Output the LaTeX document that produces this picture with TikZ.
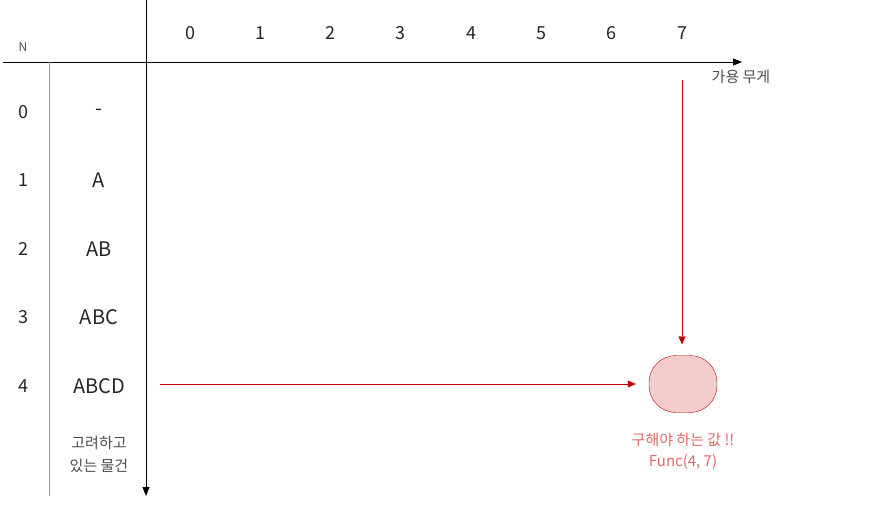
\documentclass[tikz,border=0pt]{standalone}
\usepackage{fontspec}
\setmainfont{Noto Sans CJK KR}
\usetikzlibrary{arrows.meta, positioning}

\definecolor{linered}{HTML}{C00000}
\definecolor{goalfill}{HTML}{F4CCCC}
\definecolor{goaltext}{HTML}{E06666}

\tikzset{
	num/.style = {font = \fontsize{18}{20}\selectfont, text = black!85},
	item/.style = {font = \fontsize{20}{22}\selectfont, text = black!85},
	small/.style = {font = \fontsize{12}{16}\selectfont, text = black!70},
	note/.style = {font = \fontsize{15}{23}\selectfont, text = black!70},
	redarrow/.style = {draw = linered, -{Triangle[length = 8pt, width = 7pt]}},
}

\begin{document}
\begin{tikzpicture}[x = 1pt, y = -1pt]
	\useasboundingbox (0,0) rectangle (869,505);
	
	% axes
	\draw [-{Triangle[length = 9pt, width = 7pt]}] (3,62) -- (742,62);
	\draw [-{Triangle[length = 9pt, width = 7pt]}] (146,0) -- (146,496);
	\draw [black!40] (49,62) -- (49,496);
	
	\node [small] (N) at (23,47) {N};
	\node [note] (weight) at (741,77) {가용 무게};
	
	% weights and items
	\foreach \w in {0,...,7}
		\node [num] (w\w) at ({190 + 70.3*\w},33) {\w};
	\foreach \it [count = \n from 0] in {-, A, AB, ABC, ABCD}
	{
		\node [num] (n\n) at (23,{112 + 68.5*\n}) {\n};
		\node [item] (item\n) at (99,{112 + 68.5*\n}) {\it};
	}
	\node [note, align = center] (things) at (99,454) {고려하고\\있는 물건};
	
	% the value we want
	\node [draw = linered, fill = goalfill, rounded corners = 27pt, minimum width = 68pt, minimum height = 57pt] (goal) at (683,384) {};
	\node [font = \fontsize{15}{21}\selectfont, text = goaltext, align = center, below = 17pt of goal] (goalname) {구해야 하는 값 !!\\Func(4, 7)};
	
	\coordinate (rowstart) at (160,384);
	\coordinate (colstart) at (682,80);
	\draw [redarrow, shorten > = 13pt] (rowstart) -- (goal);
	\draw [redarrow, shorten > = 11pt] (colstart) -- (goal.north -| colstart);
\end{tikzpicture}
\end{document}
